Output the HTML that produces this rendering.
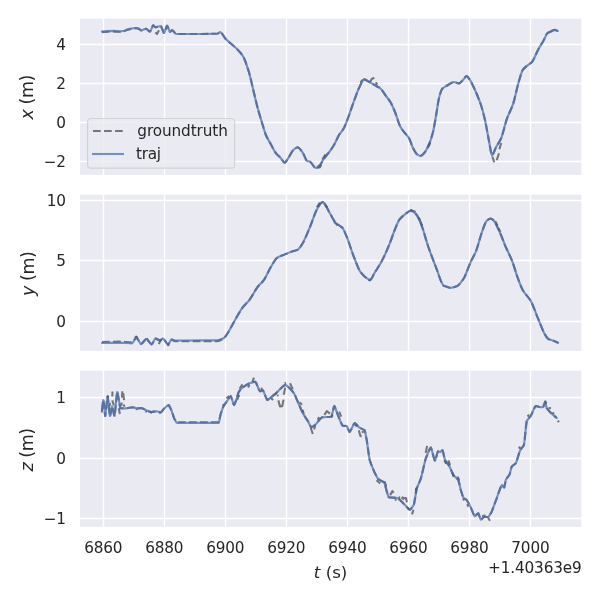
<!DOCTYPE html>
<html><head><meta charset="utf-8"><title>traj xyz</title>
<style>
html,body{margin:0;padding:0;background:#fff;}
svg{display:block;}
text{font-family:"DejaVu Sans", "Liberation Sans", sans-serif;fill:#262626;}
.tick{font-size:15.28px;letter-spacing:-0.15px;}
.lab{font-size:16.67px;}
.ylab{font-size:17.5px;letter-spacing:-0.45px;}
.grid{stroke:#fff;stroke-width:1.39;fill:none;stroke-linecap:butt;}
.gt{stroke:#000;stroke-opacity:0.5;stroke-width:2.08;fill:none;stroke-dasharray:7.7 3.33;stroke-linejoin:round;}
.gs{stroke:#000;stroke-opacity:0.5;stroke-width:2.08;fill:none;stroke-linejoin:round;stroke-linecap:butt;}
.tr{stroke:#4c72b0;stroke-opacity:0.75;stroke-width:2.15;fill:none;stroke-linejoin:round;stroke-linecap:round;}
</style></head><body>
<svg width="600" height="600" viewBox="0 0 600 600">
<rect width="600" height="600" fill="#fff"/>
<defs>
<clipPath id="c0"><rect x="80.0" y="18.7" width="501.3" height="156.2"/></clipPath>
<clipPath id="c1"><rect x="80.0" y="194.7" width="501.3" height="156.2"/></clipPath>
<clipPath id="c2"><rect x="80.0" y="370.7" width="501.3" height="156.2"/></clipPath>
</defs>
<rect x="80.0" y="18.7" width="501.3" height="156.2" fill="#eaeaf2"/>
<g clip-path="url(#c0)">
<path class="grid" d="M103.5,18.7 V174.9"/>
<path class="grid" d="M164.5,18.7 V174.9"/>
<path class="grid" d="M225.5,18.7 V174.9"/>
<path class="grid" d="M286.5,18.7 V174.9"/>
<path class="grid" d="M347.5,18.7 V174.9"/>
<path class="grid" d="M408.5,18.7 V174.9"/>
<path class="grid" d="M469.5,18.7 V174.9"/>
<path class="grid" d="M530.5,18.7 V174.9"/>
<path class="grid" d="M80.0,44.5 H581.3"/>
<path class="grid" d="M80.0,83.5 H581.3"/>
<path class="grid" d="M80.0,122.5 H581.3"/>
<path class="grid" d="M80.0,161.5 H581.3"/>
<path class="gt" d="M102.0,32.1 C104.0,31.9 106.0,31.7 108.0,31.6 C109.8,31.5 111.6,31.4 113.3,31.4 C115.6,31.5 117.8,31.8 120.0,31.8 C121.3,31.8 122.7,31.4 124.0,31.2 C125.6,30.8 127.1,30.0 128.7,29.6 C131.1,28.9 133.6,28.1 136.0,28.0 C136.9,28.1 137.8,28.5 138.7,28.8 C139.6,29.2 140.4,30.3 141.3,30.4 C142.9,30.3 144.4,28.8 146.0,28.7 C147.3,28.9 148.7,31.4 150.0,31.6 C151.1,31.2 152.2,25.8 153.3,25.3 C154.0,25.5 154.7,27.2 155.3,27.3 C157.1,27.2 158.9,26.1 160.7,26.0 C161.8,26.5 162.9,32.5 164.0,32.9 C165.0,32.5 166.0,26.2 167.1,25.7 C168.0,26.2 169.0,31.6 170.0,32.0 C170.7,31.9 171.3,30.1 172.0,30.0 C173.1,30.2 174.2,32.5 175.3,33.3 C175.8,33.6 176.2,34.0 176.7,34.0 C183.3,34.0 190.0,34.0 196.7,34.0 C203.8,34.0 210.9,33.9 218.0,33.5 C218.7,33.3 219.4,32.2 220.1,32.1 C222.1,32.6 224.0,37.2 226.0,39.3 C229.6,42.9 233.1,45.1 236.7,48.7 C238.9,51.0 241.1,53.1 243.3,56.7 C245.1,60.1 246.9,65.7 248.7,71.3 C250.7,78.2 252.7,87.8 254.7,96.0 C255.8,100.5 256.9,105.2 258.0,109.3 C259.3,114.1 260.7,118.3 262.0,122.7 C263.3,127.0 264.7,132.0 266.0,135.3 C267.6,138.8 269.1,141.2 270.7,144.0 C272.5,147.2 274.2,150.9 276.0,153.3 C277.6,155.2 279.1,156.3 280.7,158.0 C282.0,159.5 283.4,162.4 284.7,162.7 C286.0,162.3 287.4,159.2 288.7,157.3 C290.2,155.0 291.8,151.6 293.3,150.0 C294.8,148.8 296.2,147.5 297.7,147.3 C299.5,147.7 301.2,150.6 303.0,153.0 C304.3,155.0 305.7,160.1 307.0,161.0 C308.0,161.3 309.0,161.3 310.0,161.6 C311.9,162.5 313.7,167.6 315.6,168.0 C317.1,167.8 318.5,166.4 320.0,165.0 C321.0,163.9 322.0,161.5 323.0,160.0 C325.3,156.6 327.7,154.2 330.0,151.0 C331.3,149.1 332.7,147.2 334.0,145.0 C335.7,142.1 337.3,137.9 339.0,135.0 C340.7,132.3 342.3,130.9 344.0,128.0 C345.3,125.4 346.7,121.5 348.0,118.0 C350.0,112.6 352.0,106.5 354.0,101.0 C355.7,96.5 357.3,91.6 359.0,88.0 C360.7,84.7 362.3,80.0 364.0,79.4 C366.0,79.6 368.0,81.3 370.0,82.4 C372.7,83.8 375.3,85.6 378.0,87.0 C378.7,87.3 379.3,87.6 380.0,88.0 C382.0,89.6 384.0,93.3 386.0,96.0 C387.7,98.3 389.3,100.2 391.0,103.0 C392.3,105.5 393.7,108.7 395.0,112.0 C396.7,116.2 398.3,122.5 400.0,126.0 C401.3,128.5 402.7,130.2 404.0,132.0 C405.7,134.2 407.3,135.4 409.0,138.0 C410.3,140.4 411.7,145.3 413.0,148.0 C414.3,150.5 415.7,153.2 417.0,154.4 C418.2,155.2 419.4,155.9 420.6,156.0 C422.1,155.7 423.5,153.7 425.0,152.0 C426.7,149.7 428.3,146.1 430.0,142.0 C431.0,139.3 432.0,135.9 433.0,132.0 C434.0,127.7 435.0,121.6 436.0,116.0 C437.0,110.3 438.0,102.4 439.0,98.0 C440.0,94.2 441.0,90.5 442.0,89.0 C444.0,86.9 446.0,86.2 448.0,85.0 C450.0,83.9 452.0,82.2 454.0,82.0 C455.7,82.1 457.3,83.3 459.0,83.4 C460.3,83.2 461.7,81.3 463.0,80.0 C464.2,78.8 465.4,76.3 466.6,76.0 C467.7,76.3 468.9,78.4 470.0,80.0 C471.7,82.6 473.3,86.4 475.0,90.0 C477.0,94.5 479.0,99.1 481.0,105.0 C482.3,109.2 483.7,114.3 485.0,120.0 C486.3,126.1 487.7,134.3 489.0,141.0 C490.0,145.9 491.0,154.4 492.0,155.3 C493.3,154.8 494.7,149.9 496.0,147.3 C497.8,144.0 499.6,141.9 501.3,138.0 C503.1,133.4 504.9,124.7 506.7,119.3 C508.9,113.2 511.1,109.8 513.3,103.3 C515.1,97.6 516.9,88.3 518.7,82.0 C520.0,77.6 521.3,72.4 522.7,70.0 C524.0,68.1 525.3,67.2 526.7,66.0 C528.4,64.5 530.2,63.8 532.0,62.0 C534.0,59.5 536.0,53.7 538.0,50.0 C539.8,46.7 541.6,43.9 543.5,40.7 C544.8,38.3 546.0,34.6 547.3,33.3 C548.7,32.3 550.0,31.9 551.3,31.3 C552.6,30.8 554.0,30.1 555.3,30.0 C556.1,30.1 556.9,30.7 557.7,31.0"/>
<path class="gs" d="M155.5,32.3 L157.0,34.0 L159.0,30.3 M492.3,156.5 L494.3,162.3 M496.7,160.3 L499.0,153.3 M499.4,149.3 L501.2,143.0 M370.0,82.2 L371.7,79.0 L374.3,77.8 M375.7,82.3 L377.3,84.7 M360.5,82.5 L362.5,80.0 M316.7,168.0 L320.0,167.2 L321.3,165.0 M322.3,159.6 L325.6,154.4 M428.0,147.4 L430.2,143.0 M551.5,30.7 L555.5,29.5"/>
<path class="tr" d="M102.0,31.6 C104.0,31.4 106.0,31.2 108.0,31.1 C109.8,31.0 111.6,30.9 113.3,30.9 C115.6,31.0 117.8,31.3 120.0,31.3 C121.3,31.3 122.7,30.9 124.0,30.7 C125.6,30.3 127.1,29.4 128.7,29.1 C131.1,28.6 133.6,28.1 136.0,28.0 C136.9,28.1 137.8,28.5 138.7,28.8 C139.6,29.2 140.4,30.3 141.3,30.4 C142.9,30.3 144.4,28.8 146.0,28.7 C147.3,28.9 148.7,31.4 150.0,31.6 C151.1,31.2 152.2,25.8 153.3,25.3 C154.0,25.5 154.7,27.2 155.3,27.3 C157.1,27.2 158.9,26.1 160.7,26.0 C161.8,26.5 162.9,32.5 164.0,32.9 C165.0,32.5 166.0,26.2 167.1,25.7 C168.0,26.2 169.0,31.6 170.0,32.0 C170.7,31.9 171.3,30.1 172.0,30.0 C173.1,30.2 174.2,32.5 175.3,33.3 C175.8,33.6 176.2,34.0 176.7,34.0 C183.3,34.0 190.0,34.0 196.7,34.0 C203.8,34.0 210.9,33.9 218.0,33.5 C218.7,33.3 219.4,32.2 220.1,32.1 C222.1,32.6 224.0,37.2 226.0,39.3 C229.6,42.9 233.1,45.1 236.7,48.7 C238.9,51.0 241.1,53.1 243.3,56.7 C245.1,60.1 246.9,65.7 248.7,71.3 C250.7,78.2 252.7,87.8 254.7,96.0 C255.8,100.5 256.9,105.2 258.0,109.3 C259.3,114.1 260.7,118.3 262.0,122.7 C263.3,127.0 264.7,132.0 266.0,135.3 C267.6,138.8 269.1,141.2 270.7,144.0 C272.5,147.2 274.2,150.9 276.0,153.3 C277.6,155.2 279.1,156.3 280.7,158.0 C282.0,159.5 283.4,162.4 284.7,162.7 C286.0,162.3 287.4,159.2 288.7,157.3 C290.2,155.0 291.8,151.6 293.3,150.0 C294.8,148.8 296.2,147.5 297.7,147.3 C299.5,147.7 301.2,150.6 303.0,153.0 C304.3,155.0 305.7,160.1 307.0,161.0 C308.0,161.3 309.0,161.3 310.0,161.6 C311.9,162.5 313.7,167.6 315.6,168.0 C317.1,167.8 318.5,166.4 320.0,165.0 C321.0,163.9 322.0,161.5 323.0,160.0 C325.3,156.6 327.7,154.2 330.0,151.0 C331.3,149.1 332.7,147.2 334.0,145.0 C335.7,142.1 337.3,137.9 339.0,135.0 C340.7,132.3 342.3,130.9 344.0,128.0 C345.3,125.4 346.7,121.5 348.0,118.0 C350.0,112.6 352.0,106.5 354.0,101.0 C355.7,96.5 357.3,91.6 359.0,88.0 C360.7,84.7 362.3,80.0 364.0,79.4 C366.0,79.6 368.0,81.3 370.0,82.4 C372.7,83.8 375.3,85.6 378.0,87.0 C378.7,87.3 379.3,87.6 380.0,88.0 C382.0,89.6 384.0,93.3 386.0,96.0 C387.7,98.3 389.3,100.2 391.0,103.0 C392.3,105.5 393.7,108.7 395.0,112.0 C396.7,116.2 398.3,122.5 400.0,126.0 C401.3,128.5 402.7,130.2 404.0,132.0 C405.7,134.2 407.3,135.4 409.0,138.0 C410.3,140.4 411.7,145.3 413.0,148.0 C414.3,150.5 415.7,153.2 417.0,154.4 C418.2,155.2 419.4,155.9 420.6,156.0 C422.1,155.7 423.5,153.7 425.0,152.0 C426.7,149.7 428.3,146.1 430.0,142.0 C431.0,139.3 432.0,135.9 433.0,132.0 C434.0,127.7 435.0,121.6 436.0,116.0 C437.0,110.3 438.0,102.4 439.0,98.0 C440.0,94.2 441.0,90.5 442.0,89.0 C444.0,86.9 446.0,86.2 448.0,85.0 C450.0,83.9 452.0,82.2 454.0,82.0 C455.7,82.1 457.3,83.3 459.0,83.4 C460.3,83.2 461.7,81.3 463.0,80.0 C464.2,78.8 465.4,76.3 466.6,76.0 C467.7,76.3 468.9,78.4 470.0,80.0 C471.7,82.6 473.3,86.4 475.0,90.0 C477.0,94.5 479.0,99.1 481.0,105.0 C482.3,109.2 483.7,114.3 485.0,120.0 C486.3,126.1 487.7,134.3 489.0,141.0 C490.0,145.9 491.0,154.4 492.0,155.3 C493.3,154.8 494.7,149.9 496.0,147.3 C497.8,144.0 499.6,141.9 501.3,138.0 C503.1,133.4 504.9,124.7 506.7,119.3 C508.9,113.2 511.1,109.8 513.3,103.3 C515.1,97.6 516.9,88.3 518.7,82.0 C520.0,77.6 521.3,72.4 522.7,70.0 C524.0,68.1 525.3,67.2 526.7,66.0 C528.4,64.5 530.2,63.8 532.0,62.0 C534.0,59.5 536.0,53.7 538.0,50.0 C539.8,46.7 541.6,43.9 543.5,40.7 C544.8,38.3 546.0,34.6 547.3,33.3 C548.7,32.3 550.0,31.9 551.3,31.3 C552.6,30.8 554.0,30.1 555.3,30.0 C556.1,30.1 556.9,30.7 557.7,31.0"/>
</g>
<text class="tick" x="65.9" y="50.1" text-anchor="end">4</text>
<text class="tick" x="65.9" y="89.1" text-anchor="end">2</text>
<text class="tick" x="65.9" y="128.1" text-anchor="end">0</text>
<text class="tick" x="65.9" y="167.1" text-anchor="end">−2</text>
<text class="lab ylab" transform="translate(32.9,97.3) rotate(-90)" text-anchor="middle"><tspan font-style="italic">x</tspan> (m)</text>
<rect x="80.0" y="194.7" width="501.3" height="156.2" fill="#eaeaf2"/>
<g clip-path="url(#c1)">
<path class="grid" d="M103.5,194.7 V350.9"/>
<path class="grid" d="M164.5,194.7 V350.9"/>
<path class="grid" d="M225.5,194.7 V350.9"/>
<path class="grid" d="M286.5,194.7 V350.9"/>
<path class="grid" d="M347.5,194.7 V350.9"/>
<path class="grid" d="M408.5,194.7 V350.9"/>
<path class="grid" d="M469.5,194.7 V350.9"/>
<path class="grid" d="M530.5,194.7 V350.9"/>
<path class="grid" d="M80.0,200.5 H581.3"/>
<path class="grid" d="M80.0,260.5 H581.3"/>
<path class="grid" d="M80.0,321.5 H581.3"/>
<path class="gt" d="M102.0,342.0 C108.0,341.9 114.0,341.6 120.0,341.6 C124.0,341.7 128.0,342.3 132.0,342.4 C133.5,342.1 134.9,337.9 136.4,337.6 C137.9,338.0 139.5,343.6 141.0,344.0 C142.8,343.7 144.6,339.3 146.4,339.0 C148.1,339.4 149.9,344.0 151.6,344.4 C152.9,344.0 154.3,339.0 155.6,338.6 C157.1,338.7 158.5,340.3 160.0,340.4 C161.0,340.3 162.0,338.7 163.0,338.6 C164.7,339.0 166.3,344.0 168.0,344.4 C169.2,344.1 170.4,339.9 171.6,339.6 C172.7,339.7 173.9,341.2 175.0,341.3 C183.3,341.3 191.7,341.1 200.0,341.1 C200.0,341.1 200.0,341.1 200.0,341.1 C205.8,341.1 211.6,341.1 217.3,341.1 C219.6,340.9 221.8,339.5 224.0,338.0 C225.3,336.9 226.7,334.6 228.0,332.7 C230.2,329.2 232.4,324.5 234.7,320.7 C237.3,316.1 240.0,311.0 242.7,307.3 C244.9,304.5 247.1,302.9 249.3,300.1 C252.0,296.5 254.7,291.0 257.3,287.3 C259.6,284.5 261.8,282.9 264.0,279.9 C266.2,276.5 268.4,271.2 270.7,267.3 C272.7,264.0 274.8,259.8 276.8,258.0 C278.8,256.7 280.7,256.2 282.7,255.3 C285.3,254.2 288.0,252.9 290.7,251.9 C293.2,251.0 295.6,250.7 298.1,249.5 C299.6,248.4 301.2,245.7 302.7,243.3 C304.9,239.4 307.1,233.9 309.3,228.7 C311.6,223.3 313.8,216.2 316.0,211.3 C317.3,208.6 318.7,205.8 320.0,204.1 C320.9,203.2 321.8,202.1 322.7,202.0 C323.3,202.1 323.9,203.3 324.5,204.1 C325.2,205.1 326.0,206.2 326.7,207.3 C328.0,209.6 329.3,212.5 330.7,214.8 C332.4,217.8 334.2,221.5 336.0,223.3 C337.3,224.5 338.7,225.0 340.0,226.0 C340.9,226.7 341.8,227.2 342.7,228.1 C344.0,229.9 345.3,233.5 346.7,236.7 C348.9,242.2 351.1,249.5 353.3,255.3 C355.6,261.0 357.8,267.6 360.0,271.3 C361.8,273.8 363.6,275.8 365.3,277.2 C366.9,278.3 368.5,279.7 370.1,279.9 C371.6,279.4 373.2,275.1 374.7,272.7 C376.9,269.1 379.1,266.0 381.3,262.0 C384.0,256.9 386.7,251.0 389.3,244.7 C391.1,240.2 392.9,234.5 394.7,230.0 C396.2,226.4 397.7,222.2 399.2,219.9 C401.2,217.2 403.3,215.6 405.3,214.0 C407.1,212.7 408.9,211.0 410.7,210.8 C412.4,211.0 414.2,212.5 416.0,214.0 C417.8,216.0 419.6,220.5 421.3,224.7 C423.6,230.4 425.8,239.4 428.0,246.0 C430.7,253.6 433.3,260.6 436.0,267.3 C438.7,273.9 441.3,284.8 444.0,286.0 C444.0,286.0 444.0,286.0 444.0,286.0 C446.2,286.1 448.4,287.7 450.7,287.9 C452.9,287.7 455.1,286.9 457.3,286.0 C459.6,284.7 461.8,281.4 464.0,278.0 C466.2,274.1 468.4,266.9 470.7,262.0 C472.4,258.2 474.2,255.6 476.0,251.3 C477.8,246.7 479.6,239.2 481.3,234.0 C483.1,229.1 484.9,222.8 486.7,220.7 C488.0,219.6 489.3,218.7 490.7,218.5 C491.6,218.6 492.4,219.4 493.3,220.1 C495.6,222.5 497.8,228.0 500.0,232.7 C501.8,236.6 503.6,241.8 505.3,246.0 C507.6,251.1 509.8,255.2 512.0,260.7 C513.8,265.4 515.6,271.7 517.3,276.7 C519.1,281.4 520.9,286.6 522.7,290.0 C525.3,294.5 528.0,296.3 530.7,300.7 C532.9,304.8 535.1,311.3 537.3,316.7 C539.6,322.0 541.8,328.3 544.0,332.7 C545.3,335.0 546.7,337.8 548.0,338.8 C549.8,339.8 551.6,340.0 553.3,340.7 C554.9,341.3 556.5,342.1 558.1,342.8"/>
<path class="gs" d="M135.0,337.8 L136.3,336.6 L137.5,337.6 M146.9,338.2 L148.6,341.6 M158.7,344.0 L161.3,339.3 M167.3,345.0 L169.3,345.2 M368.5,279.6 L370.6,280.8 M495.2,221.2 L497.5,225.5 M498.6,228.5 L500.4,232.0 M316.9,207.4 L319.9,202.6 M324.2,202.8 L327.3,207.6 M334.2,221.8 L337.6,225.4 M410.2,209.6 L415.6,212.0 M418.8,217.4 L422.2,225.8"/>
<path class="tr" d="M102.0,343.0 C108.0,342.9 114.0,342.6 120.0,342.6 C124.0,342.7 128.0,343.3 132.0,343.4 C133.5,343.0 134.9,338.0 136.4,337.6 C137.9,338.0 139.5,343.6 141.0,344.0 C142.8,343.7 144.6,339.3 146.4,339.0 C148.1,339.4 149.9,344.0 151.6,344.4 C152.9,344.0 154.3,339.0 155.6,338.6 C157.1,338.7 158.5,340.3 160.0,340.4 C161.0,340.3 162.0,338.7 163.0,338.6 C164.7,339.0 166.3,344.0 168.0,344.4 C169.2,344.1 170.4,339.9 171.6,339.6 C172.7,339.7 173.9,340.5 175.0,340.6 C183.3,340.6 191.7,340.4 200.0,340.4 C200.0,340.4 200.0,340.4 200.0,340.4 C205.8,340.4 211.6,340.4 217.3,340.4 C219.6,340.2 221.8,339.2 224.0,338.0 C225.3,337.0 226.7,334.6 228.0,332.7 C230.2,329.2 232.4,324.5 234.7,320.7 C237.3,316.1 240.0,311.0 242.7,307.3 C244.9,304.5 247.1,302.9 249.3,300.1 C252.0,296.5 254.7,291.0 257.3,287.3 C259.6,284.5 261.8,282.9 264.0,279.9 C266.2,276.5 268.4,271.2 270.7,267.3 C272.7,264.0 274.8,259.8 276.8,258.0 C278.8,256.7 280.7,256.2 282.7,255.3 C285.3,254.2 288.0,252.9 290.7,251.9 C293.2,251.0 295.6,250.7 298.1,249.5 C299.6,248.4 301.2,245.7 302.7,243.3 C304.9,239.4 307.1,233.9 309.3,228.7 C311.6,223.3 313.8,216.2 316.0,211.3 C317.3,208.6 318.7,205.8 320.0,204.1 C320.9,203.2 321.8,202.1 322.7,202.0 C323.3,202.1 323.9,203.3 324.5,204.1 C325.2,205.1 326.0,206.2 326.7,207.3 C328.0,209.6 329.3,212.5 330.7,214.8 C332.4,217.8 334.2,221.5 336.0,223.3 C337.3,224.5 338.7,225.0 340.0,226.0 C340.9,226.7 341.8,227.2 342.7,228.1 C344.0,229.9 345.3,233.5 346.7,236.7 C348.9,242.2 351.1,249.5 353.3,255.3 C355.6,261.0 357.8,267.6 360.0,271.3 C361.8,273.8 363.6,275.8 365.3,277.2 C366.9,278.3 368.5,279.7 370.1,279.9 C371.6,279.4 373.2,275.1 374.7,272.7 C376.9,269.1 379.1,266.0 381.3,262.0 C384.0,256.9 386.7,251.0 389.3,244.7 C391.1,240.2 392.9,234.5 394.7,230.0 C396.2,226.4 397.7,222.2 399.2,219.9 C401.2,217.2 403.3,215.6 405.3,214.0 C407.1,212.7 408.9,211.0 410.7,210.8 C412.4,211.0 414.2,212.5 416.0,214.0 C417.8,216.0 419.6,220.5 421.3,224.7 C423.6,230.4 425.8,239.4 428.0,246.0 C430.7,253.6 433.3,260.6 436.0,267.3 C438.7,273.9 441.3,284.8 444.0,286.0 C444.0,286.0 444.0,286.0 444.0,286.0 C446.2,286.1 448.4,287.7 450.7,287.9 C452.9,287.7 455.1,286.9 457.3,286.0 C459.6,284.7 461.8,281.4 464.0,278.0 C466.2,274.1 468.4,266.9 470.7,262.0 C472.4,258.2 474.2,255.6 476.0,251.3 C477.8,246.7 479.6,239.2 481.3,234.0 C483.1,229.1 484.9,222.8 486.7,220.7 C488.0,219.6 489.3,218.7 490.7,218.5 C491.6,218.6 492.4,219.4 493.3,220.1 C495.6,222.5 497.8,228.0 500.0,232.7 C501.8,236.6 503.6,241.8 505.3,246.0 C507.6,251.1 509.8,255.2 512.0,260.7 C513.8,265.4 515.6,271.7 517.3,276.7 C519.1,281.4 520.9,286.6 522.7,290.0 C525.3,294.5 528.0,296.3 530.7,300.7 C532.9,304.8 535.1,311.3 537.3,316.7 C539.6,322.0 541.8,328.3 544.0,332.7 C545.3,335.0 546.7,337.8 548.0,338.8 C549.8,339.8 551.6,340.0 553.3,340.7 C554.9,341.3 556.5,342.1 558.1,342.8"/>
</g>
<text class="tick" x="65.9" y="206.1" text-anchor="end">10</text>
<text class="tick" x="65.9" y="266.1" text-anchor="end">5</text>
<text class="tick" x="65.9" y="327.1" text-anchor="end">0</text>
<text class="lab ylab" transform="translate(33.9,273.8) rotate(-90)" text-anchor="middle"><tspan font-style="italic">y</tspan> (m)</text>
<rect x="80.0" y="370.7" width="501.3" height="156.2" fill="#eaeaf2"/>
<g clip-path="url(#c2)">
<path class="grid" d="M103.5,370.7 V526.9"/>
<path class="grid" d="M164.5,370.7 V526.9"/>
<path class="grid" d="M225.5,370.7 V526.9"/>
<path class="grid" d="M286.5,370.7 V526.9"/>
<path class="grid" d="M347.5,370.7 V526.9"/>
<path class="grid" d="M408.5,370.7 V526.9"/>
<path class="grid" d="M469.5,370.7 V526.9"/>
<path class="grid" d="M530.5,370.7 V526.9"/>
<path class="grid" d="M80.0,397.5 H581.3"/>
<path class="grid" d="M80.0,458.5 H581.3"/>
<path class="grid" d="M80.0,518.5 H581.3"/>
<path class="gt" d="M102.0,410.0 C102.4,406.7 102.9,401.7 103.3,400.0 C104.0,402.7 104.6,413.3 105.2,416.0 C106.0,412.8 106.8,399.8 107.6,396.5 C108.4,399.8 109.2,412.8 110.0,416.0 C110.7,414.4 111.4,408.0 112.1,406.4 C112.9,408.0 113.7,414.4 114.5,416.0 C115.4,412.0 116.3,396.0 117.2,392.0 C118.3,394.7 119.4,405.6 120.5,408.3 C122.6,408.3 124.6,408.3 126.7,408.3 C128.7,408.1 130.7,407.5 132.7,407.3 C134.2,407.5 135.8,408.2 137.3,408.4 C138.7,408.3 140.0,408.1 141.3,408.0 C143.1,408.4 144.9,409.7 146.7,410.4 C148.2,411.0 149.8,411.7 151.3,412.0 C153.1,411.9 154.9,411.4 156.7,411.3 C158.0,411.5 159.3,412.2 160.7,412.4 C161.8,411.8 162.9,409.8 164.0,408.7 C165.6,407.3 167.1,405.7 168.7,405.1 C169.6,405.9 170.4,408.2 171.3,410.0 C172.3,412.6 173.3,416.3 174.3,418.7 C175.2,420.1 176.0,421.6 176.9,422.2 C190.8,422.2 204.8,422.2 218.7,422.2 C219.3,420.9 220.0,416.5 220.7,414.0 C221.6,411.3 222.4,408.8 223.3,406.7 C224.7,404.3 226.0,402.6 227.3,400.7 C228.4,399.1 229.6,396.8 230.7,396.0 C231.8,397.5 232.9,403.4 234.0,404.9 C234.7,404.2 235.3,402.2 236.0,400.7 C236.9,398.1 237.8,394.2 238.7,392.0 C240.0,390.0 241.3,388.7 242.7,387.3 C244.9,385.8 247.1,384.4 249.3,383.3 C251.3,382.7 253.3,382.0 255.3,381.7 C256.9,383.3 258.4,389.7 260.0,391.3 C260.9,391.1 261.9,390.4 262.8,390.2 C264.3,391.8 265.8,398.4 267.3,400.0 C268.8,399.5 270.2,397.9 271.6,396.8 C273.1,395.7 274.5,394.5 276.0,393.3 C279.1,390.6 282.2,386.1 285.3,384.7 C288.2,386.1 291.1,389.8 294.0,393.3 C295.6,396.2 297.1,400.5 298.7,404.0 C300.2,407.4 301.8,410.9 303.3,414.0 C304.9,416.6 306.4,418.8 308.0,421.3 C309.1,423.3 310.2,426.3 311.3,427.3 C312.7,426.9 314.0,425.7 315.3,424.7 C317.6,422.5 319.8,418.7 322.0,417.3 C325.1,417.0 328.2,417.0 331.3,416.7 C332.3,414.8 333.3,407.8 334.3,406.0 C335.5,407.6 336.8,412.3 338.0,415.3 C339.6,418.9 341.1,423.9 342.7,425.7 C344.0,425.9 345.3,425.9 346.7,426.0 C347.6,427.1 348.6,431.0 349.6,432.0 C351.3,430.5 353.0,424.5 354.7,423.0 C356.2,423.8 357.7,426.2 359.2,427.5 C361.0,428.6 362.8,428.9 364.7,430.3 C365.3,432.3 366.0,436.5 366.7,440.0 C367.7,446.1 368.7,454.7 369.7,460.0 C371.2,464.8 372.7,468.1 374.2,471.7 C375.6,474.4 376.9,477.3 378.3,479.2 C380.3,480.6 382.2,481.0 384.2,482.5 C385.7,485.7 387.2,494.6 388.7,497.2 C391.6,497.6 394.6,497.6 397.5,498.0 C399.7,499.2 401.9,502.1 404.2,504.2 C406.1,506.0 408.1,508.8 410.0,509.7 C411.3,508.8 412.6,506.8 413.9,504.5 C414.8,500.8 415.8,493.0 416.7,488.7 C418.1,484.5 419.5,482.2 420.9,478.4 C422.5,472.6 424.2,464.0 425.8,458.3 C427.5,454.2 429.2,449.3 430.8,447.5 C432.2,449.7 433.6,458.6 435.0,460.8 C436.0,459.2 437.0,452.8 438.0,451.2 C438.7,451.3 439.4,451.9 440.1,452.0 C440.9,451.7 441.7,450.6 442.5,450.3 C443.3,451.9 444.2,457.5 445.0,460.0 C446.4,462.5 447.8,463.7 449.2,465.8 C450.6,468.5 451.9,472.5 453.3,475.0 C455.0,477.0 456.7,477.7 458.3,480.0 C459.2,482.4 460.0,486.9 460.8,490.0 C461.7,492.7 462.5,495.7 463.3,497.5 C464.4,498.6 465.6,499.0 466.7,500.0 C468.1,502.0 469.4,504.8 470.8,507.5 C472.1,510.3 473.4,514.9 474.7,516.3 C475.9,515.8 477.1,513.8 478.3,513.3 C479.2,514.4 480.0,518.6 480.8,519.7 C481.9,519.2 483.1,517.4 484.2,517.0 C485.6,517.0 486.9,517.0 488.3,517.0 C489.4,516.1 490.6,513.6 491.7,511.7 C493.3,507.8 495.0,502.7 496.7,498.3 C498.4,493.8 500.2,487.2 502.0,485.0 C502.7,485.4 503.4,487.1 504.2,487.5 C504.7,486.2 505.3,481.9 505.8,480.0 C507.1,477.5 508.4,476.6 509.7,474.2 C510.3,472.2 511.0,468.4 511.7,466.7 C513.1,465.1 514.4,464.8 515.8,463.3 C517.2,460.3 518.6,454.2 520.0,450.7 C521.3,448.3 522.7,447.5 524.0,444.7 C524.9,439.6 525.8,426.3 526.7,421.3 C528.0,418.8 529.3,417.9 530.7,416.0 C532.4,413.0 534.0,407.7 535.7,406.0 C537.6,406.2 539.5,407.1 541.3,407.3 C542.0,407.2 542.7,407.0 543.3,406.7 C543.9,405.7 544.5,402.8 545.1,402.0 C545.6,403.0 546.1,406.5 546.7,408.0 C548.2,410.4 549.8,411.7 551.3,413.3 C553.1,415.0 554.9,416.4 556.7,418.0"/>
<path class="gs" d="M101.9,410.0 L101.9,412.6 M107.9,395.6 L107.9,398.0 M109.7,402.8 L110.0,405.8 M112.3,396.5 L112.5,391.5 M112.2,400.4 L113.9,405.4 M118.7,408.2 L119.9,414.0 M121.4,405.8 L121.7,402.5 M122.0,397.7 L122.3,391.3 M123.2,393.2 L124.1,400.2 M123.8,404.6 L124.4,406.8 M226.4,398.2 L229.2,396.0 M222.8,405.8 L224.0,404.4 M237.2,399.8 L239.2,394.8 M239.6,388.8 L242.4,384.4 M247.6,387.0 L248.6,386.6 L249.3,384.6 M252.4,381.8 L254.0,377.6 M260.6,388.8 L262.6,388.6 M270.0,397.2 L273.2,400.0 M275.0,393.4 L276.4,394.6 M277.2,395.0 L278.4,395.8 M278.3,400.4 L280.0,406.4 L282.2,406.2 L283.6,399.6 M283.7,394.8 L285.2,387.6 M284.8,383.6 L285.8,382.6 M290.0,383.2 L292.8,389.4 M299.4,402.3 L302.0,404.7 M302.8,410.0 L303.7,414.2 M310.8,428.0 L312.8,434.0 M314.0,429.4 L315.2,426.0 M317.6,419.6 L319.2,417.2 M324.4,414.8 L326.8,411.2 L330.0,413.6 M331.6,417.0 L332.5,415.0 M339.2,411.6 L341.2,416.6 M355.2,424.4 L356.8,426.6 M358.8,430.4 L360.4,436.0 L361.6,436.4 M362.0,431.2 L363.6,432.6 M376.5,480.3 L380.3,483.5 M384.5,481.4 L386.3,486.3 M390.1,495.2 L392.4,491.0 L393.6,492.8 M394.7,499.8 L396.6,499.8 M398.6,497.6 L400.2,497.4 M401.6,498.8 L402.7,497.4 L404.0,499.6 M404.2,498.0 L406.0,498.0 L406.9,502.2 M407.4,507.8 L409.2,509.8 M413.4,509.7 L412.0,514.4 M416.2,487.7 L415.8,493.3 M427.1,445.9 L425.7,452.9 M444.3,460.4 L446.2,463.7 M448.5,460.4 L449.9,465.1 M452.3,472.5 L453.7,476.7 M457.6,476.7 L459.2,480.4 M462.9,498.5 L464.3,500.3 M467.1,504.3 L468.5,506.8 M482.2,516.0 L485.7,515.4 M488.1,517.9 L490.0,520.8 M527.5,416.5 L529.0,414.5 M518.8,448.6 L520.2,446.6 M136.2,408.8 L137.2,409.8 M145.4,411.2 L146.8,412.0 M150.4,412.4 L152.0,412.6 M159.6,413.0 L160.4,413.4 M544.6,401.6 L545.4,401.4 L546.2,403.5 M548.5,408.2 L551.0,408.0 M552.5,412.3 L554.0,414.3 M558.0,420.5 L558.8,422.2"/>
<path class="tr" d="M102.0,410.0 C102.4,406.7 102.9,401.7 103.3,400.0 C104.0,402.7 104.6,413.3 105.2,416.0 C106.0,412.8 106.8,399.8 107.6,396.5 C108.4,399.8 109.2,412.8 110.0,416.0 C110.7,414.4 111.4,408.0 112.1,406.4 C112.9,408.0 113.7,414.4 114.5,416.0 C115.4,412.0 116.3,396.0 117.2,392.0 C118.3,394.7 119.4,405.6 120.5,408.3 C122.6,408.3 124.6,408.3 126.7,408.3 C128.7,408.1 130.7,407.5 132.7,407.3 C134.2,407.5 135.8,408.2 137.3,408.4 C138.7,408.3 140.0,408.1 141.3,408.0 C143.1,408.4 144.9,409.7 146.7,410.4 C148.2,411.0 149.8,411.7 151.3,412.0 C153.1,411.9 154.9,411.4 156.7,411.3 C158.0,411.5 159.3,412.2 160.7,412.4 C161.8,411.8 162.9,409.8 164.0,408.7 C165.6,407.3 167.1,405.7 168.7,405.1 C169.6,405.9 170.4,408.2 171.3,410.0 C172.3,412.6 173.3,416.2 174.3,418.7 C175.2,420.3 176.0,422.2 176.9,422.9 C190.8,422.9 204.8,422.9 218.7,422.9 C219.3,421.4 220.0,416.6 220.7,414.0 C221.6,411.2 222.4,408.8 223.3,406.7 C224.7,404.3 226.0,402.6 227.3,400.7 C228.4,399.1 229.6,396.8 230.7,396.0 C231.8,397.5 232.9,403.4 234.0,404.9 C234.7,404.2 235.3,402.2 236.0,400.7 C236.9,398.1 237.8,394.2 238.7,392.0 C240.0,390.0 241.3,388.7 242.7,387.3 C244.9,385.8 247.1,384.4 249.3,383.3 C251.3,382.7 253.3,382.0 255.3,381.7 C256.9,383.3 258.4,389.7 260.0,391.3 C260.9,391.1 261.9,390.4 262.8,390.2 C264.3,391.8 265.8,398.4 267.3,400.0 C268.8,399.5 270.2,397.9 271.6,396.8 C273.1,395.7 274.5,394.5 276.0,393.3 C279.1,390.6 282.2,386.1 285.3,384.7 C288.2,386.1 291.1,389.8 294.0,393.3 C295.6,396.2 297.1,400.5 298.7,404.0 C300.2,407.4 301.8,410.9 303.3,414.0 C304.9,416.6 306.4,418.8 308.0,421.3 C309.1,423.3 310.2,426.3 311.3,427.3 C312.7,426.9 314.0,425.7 315.3,424.7 C317.6,422.5 319.8,418.7 322.0,417.3 C325.1,417.0 328.2,417.0 331.3,416.7 C332.3,414.8 333.3,407.8 334.3,406.0 C335.5,407.6 336.8,412.3 338.0,415.3 C339.6,418.9 341.1,423.9 342.7,425.7 C344.0,425.9 345.3,425.9 346.7,426.0 C347.6,427.1 348.6,431.0 349.6,432.0 C351.3,430.5 353.0,424.5 354.7,423.0 C356.2,423.8 357.7,426.2 359.2,427.5 C361.0,428.6 362.8,428.9 364.7,430.3 C365.3,432.3 366.0,436.5 366.7,440.0 C367.7,446.1 368.7,454.7 369.7,460.0 C371.2,464.8 372.7,468.1 374.2,471.7 C375.6,474.4 376.9,477.3 378.3,479.2 C380.3,480.6 382.2,481.0 384.2,482.5 C385.7,485.7 387.2,494.6 388.7,497.2 C391.6,497.6 394.6,497.6 397.5,498.0 C399.7,499.2 401.9,502.1 404.2,504.2 C406.1,506.0 408.1,508.8 410.0,509.7 C411.3,508.8 412.6,506.8 413.9,504.5 C414.8,500.8 415.8,493.0 416.7,488.7 C418.1,484.5 419.5,482.2 420.9,478.4 C422.5,472.6 424.2,464.0 425.8,458.3 C427.5,454.2 429.2,449.3 430.8,447.5 C432.2,449.7 433.6,458.6 435.0,460.8 C436.0,459.2 437.0,452.8 438.0,451.2 C438.7,451.3 439.4,451.9 440.1,452.0 C440.9,451.7 441.7,450.6 442.5,450.3 C443.3,451.9 444.2,457.5 445.0,460.0 C446.4,462.5 447.8,463.7 449.2,465.8 C450.6,468.5 451.9,472.5 453.3,475.0 C455.0,477.0 456.7,477.7 458.3,480.0 C459.2,482.4 460.0,486.9 460.8,490.0 C461.7,492.7 462.5,495.7 463.3,497.5 C464.4,498.6 465.6,499.0 466.7,500.0 C468.1,502.0 469.4,504.8 470.8,507.5 C472.1,510.3 473.4,514.9 474.7,516.3 C475.9,515.8 477.1,513.8 478.3,513.3 C479.2,514.4 480.0,518.6 480.8,519.7 C481.9,519.2 483.1,517.4 484.2,517.0 C485.6,517.0 486.9,517.0 488.3,517.0 C489.4,516.1 490.6,513.6 491.7,511.7 C493.3,507.8 495.0,502.7 496.7,498.3 C498.4,493.8 500.2,487.2 502.0,485.0 C502.7,485.4 503.4,487.1 504.2,487.5 C504.7,486.2 505.3,481.9 505.8,480.0 C507.1,477.5 508.4,476.6 509.7,474.2 C510.3,472.2 511.0,468.4 511.7,466.7 C513.1,465.1 514.4,464.8 515.8,463.3 C517.2,460.3 518.6,454.2 520.0,450.7 C521.3,448.3 522.7,447.5 524.0,444.7 C524.9,439.6 525.8,426.3 526.7,421.3 C528.0,418.8 529.3,417.9 530.7,416.0 C532.4,413.0 534.0,407.7 535.7,406.0 C537.6,406.2 539.5,407.1 541.3,407.3 C542.0,407.2 542.7,407.0 543.3,406.7 C543.9,405.7 544.5,402.8 545.1,402.0 C545.6,403.0 546.1,406.5 546.7,408.0 C548.2,410.4 549.8,411.7 551.3,413.3 C553.1,415.0 554.9,416.4 556.7,418.0"/>
</g>
<text class="tick" x="65.9" y="403.1" text-anchor="end">1</text>
<text class="tick" x="65.9" y="464.1" text-anchor="end">0</text>
<text class="tick" x="65.9" y="524.1" text-anchor="end">−1</text>
<text class="lab ylab" transform="translate(32.9,450.0) rotate(-90)" text-anchor="middle"><tspan font-style="italic">z</tspan> (m)</text>
<text class="tick" x="103.3" y="552.6" text-anchor="middle">6860</text>
<text class="tick" x="164.3" y="552.6" text-anchor="middle">6880</text>
<text class="tick" x="225.3" y="552.6" text-anchor="middle">6900</text>
<text class="tick" x="286.3" y="552.6" text-anchor="middle">6920</text>
<text class="tick" x="347.4" y="552.6" text-anchor="middle">6940</text>
<text class="tick" x="408.4" y="552.6" text-anchor="middle">6960</text>
<text class="tick" x="469.4" y="552.6" text-anchor="middle">6980</text>
<text class="tick" x="530.4" y="552.6" text-anchor="middle">7000</text>
<text class="lab" x="330.6" y="577.5" text-anchor="middle"><tspan font-style="italic">t</tspan> (s)</text>
<text class="tick" x="581.6" y="573.3" text-anchor="end">+1.40363e9</text>
<rect x="87.6" y="118.5" width="147" height="49.6" rx="3.2" ry="3.2" fill="#eaeaf2" fill-opacity="0.8" stroke="#cccccc" stroke-opacity="0.8" stroke-width="1.1"/>
<path class="gt" d="M93,131 H123.6"/>
<path class="tr" d="M92,154 H124" style="stroke-linecap:butt;stroke-width:2.08"/>
<text class="tick" style="letter-spacing:-0.1px" x="137.3" y="136.4">groundtruth</text>
<text class="tick" style="letter-spacing:-0.25px" x="135.9" y="159.0">traj</text>
</svg></body></html>
